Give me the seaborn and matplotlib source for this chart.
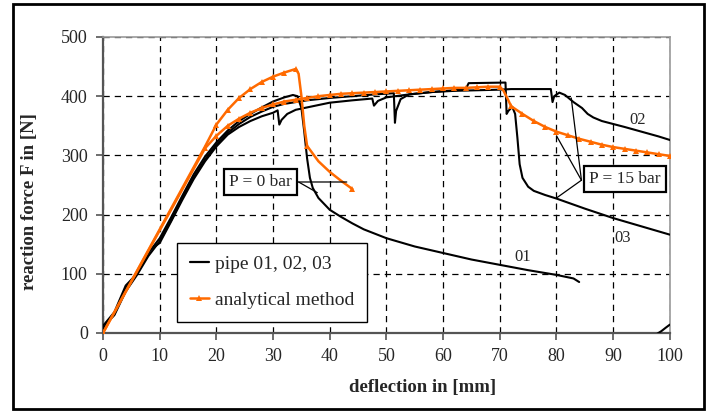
import matplotlib
matplotlib.use("Agg")
import matplotlib.pyplot as plt
import seaborn as sns
import numpy as np
from matplotlib.lines import Line2D
from matplotlib.patches import Rectangle

# pipe 01 (P = 0 bar)
pipe01_x = [0, 0.3, 2, 4, 6, 8, 10, 12, 14, 16, 18, 20, 22, 24, 26, 28, 30, 32, 33.5, 34.3,
            35, 35.5, 36, 36.5, 37, 38, 39, 40, 42, 44, 46, 50, 55, 60, 65, 70, 75, 80, 83, 84]
pipe01_y = [5, 14, 32, 75, 102, 135, 160, 195, 232, 268, 298, 322, 342, 358, 370, 381, 391, 398, 402, 400,
            380, 340, 295, 262, 245, 228, 218, 208, 196, 185, 175, 160, 146, 135, 124, 115, 106, 98, 92, 86]

# pipe 02 (P = 15 bar)
pipe02_x = [0, 2, 4, 6, 8, 10, 12, 14, 16, 18, 20, 22, 24, 26, 28, 30, 32, 34, 36, 38, 40, 44, 48,
            51.3, 51.5, 51.7, 52.5, 54, 58, 62, 66, 70, 72, 76, 79, 79.3, 79.6, 80.5, 81.5, 83,
            84.5, 85.5, 86.5, 88, 90, 92, 95, 98, 100]
pipe02_y = [10, 30, 70, 98, 130, 155, 190, 228, 263, 293, 318, 338, 353, 365, 374, 382, 387, 390, 393, 395, 397, 400, 403,
            405, 355, 375, 395, 403, 407, 409, 410, 411, 412, 412, 412, 390, 400, 406, 402, 390,
            380, 370, 364, 358, 353, 348, 340, 332, 326]

# pipe 03 (P = 15 bar)
pipe03_x = [0, 2, 4, 6, 8, 10, 12, 14, 16, 18, 20, 22, 24, 26, 28, 30, 30.8, 31.1, 31.5, 32.5, 34, 36,
            40, 44, 47.5, 47.8, 48.5, 50, 54, 58, 62, 64, 64.5, 71, 71.2, 71.5, 72.2, 72.7, 73.1,
            73.5, 74, 75, 76, 78, 80, 85, 90, 95, 100]
pipe03_y = [12, 35, 80, 100, 138, 152, 188, 225, 260, 290, 315, 335, 348, 358, 366, 372, 376, 352, 360, 370, 377, 381,
            389, 393, 396, 384, 392, 398, 403, 407, 410, 412, 422, 423, 370, 375, 382, 370, 330,
            285, 262, 247, 240, 233, 227, 210, 194, 180, 166]

# unloading piece at the lower right
unload_x = [97.5, 98.5, 99.3, 100]
unload_y = [-3, 3, 9, 14]

# analytical method, P = 0 bar
ana0_x = [0, 18, 20, 22, 24, 26, 28, 30, 32, 34, 34.5, 35, 35.5, 36, 38, 40, 42, 44]
ana0_y = [0, 315, 352, 377, 397, 412, 424, 433, 440, 446, 438, 400, 350, 316, 290, 272, 257, 243]
ana0_marks = [0, 2, 3, 4, 5, 6, 7, 8, 9, 13, 17]

# analytical method, P = 15 bar
ana15_x = [0, 18, 20, 22, 24, 26, 28, 30, 32, 34, 36, 38, 40, 42, 44, 46, 48, 50, 52, 54, 56, 58,
           60, 62, 64, 66, 68, 70, 70.6, 71.2, 72, 74, 76, 78, 80, 82, 84, 86, 88, 90, 92, 94,
           96, 98, 100]
ana15_y = [0, 312, 333, 350, 362, 372, 380, 386, 391, 394, 397, 400, 402, 404, 405, 406, 407, 408, 409, 410, 411, 412,
           413, 414, 414, 415, 416, 416, 410, 399, 383, 370, 358, 348, 340, 334, 328, 323, 318, 314, 311, 308,
           305, 302, 299]
ana15_marks = [i for i, v in enumerate(ana15_x) if float(v).is_integer()]

orange = "#FF6A00"

sns.set_theme(style="white")
plt.rcParams["font.family"] = ["Liberation Serif", "DejaVu Serif"]

fig = plt.figure(figsize=(7.13, 4.11), dpi=100)
ax = fig.add_axes([0.1445, 0.190, 0.795, 0.720])

for xs, ys in [(pipe01_x, pipe01_y), (pipe02_x, pipe02_y), (pipe03_x, pipe03_y), (unload_x, unload_y)]:
    sns.lineplot(x=xs, y=ys, sort=False, color="black", lw=1.5, ax=ax, zorder=3)

sns.lineplot(x=ana0_x, y=ana0_y, sort=False, color=orange, lw=1.8, marker="^", markersize=5,
             markeredgewidth=0, markevery=ana0_marks, ax=ax, zorder=4)
sns.lineplot(x=ana15_x, y=ana15_y, sort=False, color=orange, lw=1.8, marker="^", markersize=5,
             markeredgewidth=0, markevery=ana15_marks, ax=ax, zorder=4)

ax.set_xlim(0, 100)
ax.set_ylim(0, 500)
ax.set_xticks(np.arange(0, 101, 10))
ax.set_yticks(np.arange(0, 501, 100))
ax.grid(True, color="black", linestyle=(0, (5, 4)), lw=0.9)
ax.set_axisbelow(True)
ax.tick_params(axis="both", labelsize=13, length=5, width=1.2, color="#555555", direction="out",
               bottom=True, left=True, pad=6)
for side in ["left", "bottom"]:
    ax.spines[side].set_color("#555555")
    ax.spines[side].set_linewidth(1.6)
for side in ["top", "right"]:
    ax.spines[side].set_color("#999999")
    ax.spines[side].set_linewidth(1.2)

ax.set_xlabel("deflection in [mm]", fontsize=13.5, fontweight="bold")
ax.set_ylabel("reaction force F in [N]", fontsize=13.5, fontweight="bold")
ax.xaxis.set_label_coords(0.564, -0.155)
ax.yaxis.set_label_coords(-0.115, 0.443)

# curve labels
ax.text(74, 129, "01", fontsize=12, ha="center", va="center")
ax.text(94.4, 360, "02", fontsize=12, ha="center", va="center")
ax.text(91.7, 160, "03", fontsize=12, ha="center", va="center")

# pressure call-outs
box = dict(boxstyle="square,pad=0.3", fc="white", ec="black", lw=1.6)
ax.text(27.8, 255, "P = 0 bar", fontsize=12.5, ha="center", va="center", bbox=box, zorder=6)
for tx, ty in [(43, 255), (37.8, 237)]:
    ax.annotate("", xy=(tx, ty), xytext=(34.5, 255), arrowprops=dict(arrowstyle="-", lw=0.9, color="black",
                shrinkA=0, shrinkB=0), zorder=5)
ax.text(92.1, 260, "P = 15 bar", fontsize=12.5, ha="center", va="center", bbox=box, zorder=6)
for tx, ty in [(82.6, 397), (80, 333), (80, 228)]:
    ax.annotate("", xy=(tx, ty), xytext=(84.4, 258), arrowprops=dict(arrowstyle="-", lw=0.9, color="black",
                shrinkA=0, shrinkB=0), zorder=5)

handles = [Line2D([], [], color="black", lw=1.6),
           Line2D([], [], color=orange, lw=1.8, marker="^", markersize=5, markeredgewidth=0)]
leg = ax.legend(handles, ["pipe 01, 02, 03", "analytical method"], loc="upper left",
                bbox_to_anchor=(0.1305, 0.304), fontsize=14, frameon=True, fancybox=False,
                edgecolor="black", handlelength=1.0, handletextpad=0.3, borderpad=0.65,
                labelspacing=0.95, framealpha=1, borderaxespad=0)
leg.get_frame().set_linewidth(1.0)

fig.patches.append(Rectangle((13 / 713, 2 / 411), 691 / 713, 405 / 411, transform=fig.transFigure,
                             fill=False, ec="black", lw=2))

fig.savefig("out.png", dpi=100)
